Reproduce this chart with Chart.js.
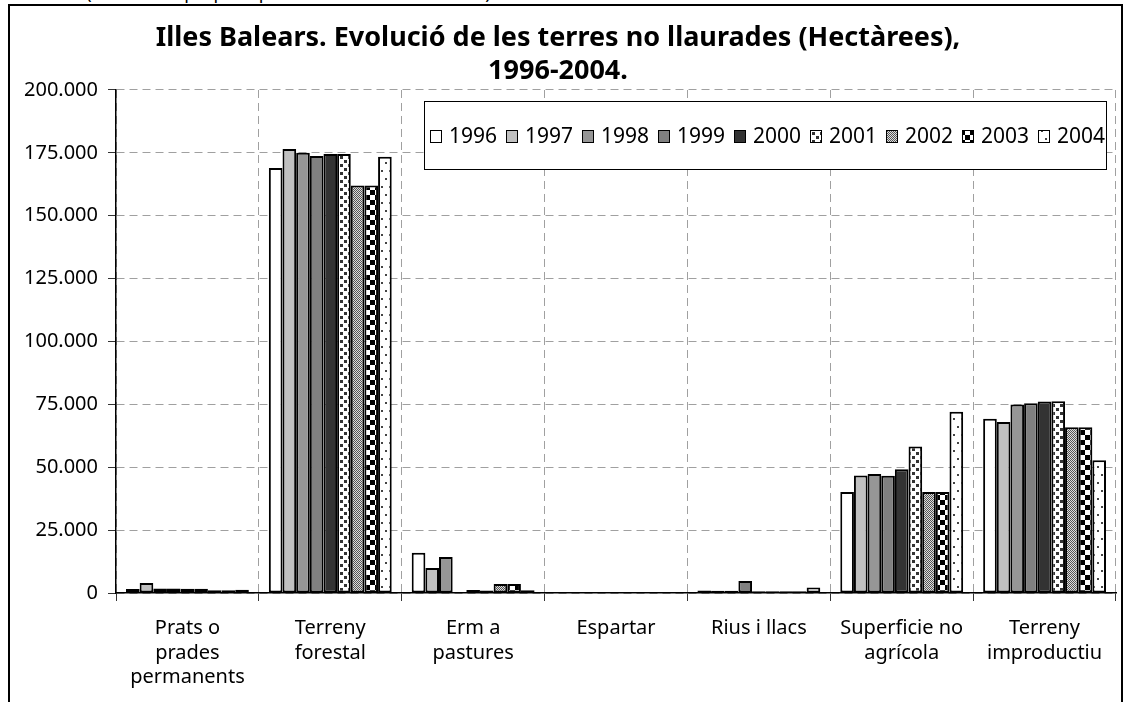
<!DOCTYPE html>
<html>
<head>
<meta charset="utf-8">
<script src="https://cdn.jsdelivr.net/npm/chart.js@4"></script>
<style>
body{margin:0;background:#fff;overflow:hidden}
#wrap{position:relative;width:1133px;height:702px;overflow:hidden}
#cap{position:absolute;left:12px;top:-20px;font:18px "Noto Sans";white-space:nowrap;color:#000}
#frame{position:absolute;left:8px;top:4px;width:1115px;height:760px;border:2px solid #000;box-sizing:border-box}
canvas{position:absolute;left:0;top:0}
</style>
</head>
<body>
<div id="wrap">
  <div id="cap">Gràfic 3. (Elaboració pròpia a partir de les taules 3.3 i 3.4)</div>
  <div id="frame"></div>
  <canvas id="myChart" width="1133" height="702"></canvas>
</div>
<script>
const titleLines = ['Illes Balears. Evolució de les terres no llaurades (Hectàrees),', '1996-2004.'];
const categories = [
    ['Prats o', 'prades', 'permanents'],
    ['Terreny', 'forestal'],
    ['Erm a', 'pastures'],
    'Espartar',
    'Rius i llacs',
    ['Superficie no', 'agrícola'],
    ['Terreny', 'improductiu']
];
const years = ['1996', '1997', '1998', '1999', '2000', '2001', '2002', '2003', '2004'];

const v1996 = [1600, 169000, 16000, 0, 1000, 40200, 69300];
const v1997 = [4000, 176500, 9900, 0, 900, 46700, 68000];
const v1998 = [1800, 175000, 14300, 0, 900, 47300, 74900];
const v1999 = [1800, 173800, 400, 0, 4800, 46600, 75400];
const v2000 = [1700, 174500, 1200, 0, 700, 49200, 76100];
const v2001 = [1700, 174500, 1000, 0, 700, 58200, 76200];
const v2002 = [1100, 162000, 3600, 0, 700, 40200, 65900];
const v2003 = [1100, 162000, 3600, 0, 700, 40200, 65900];
const v2004 = [1300, 173500, 1100, 0, 2200, 72100, 52800];

const yTickLabels = ['0', '25.000', '50.000', '75.000', '100.000', '125.000', '150.000', '175.000', '200.000'];

const ctx = document.getElementById('myChart').getContext('2d');

// little fill patterns like the old Excel ones
function pattern(w, h, paint) {
    const c = document.createElement('canvas');
    c.width = w; c.height = h;
    const g = c.getContext('2d');
    g.fillStyle = '#fff';
    g.fillRect(0, 0, w, h);
    paint(g);
    return ctx.createPattern(c, 'repeat');
}

const confetti = pattern(8, 8, g => {
    g.fillStyle = '#333';
    g.fillRect(0, 0, 3, 3);
    g.fillRect(4, 4, 3, 3);
});
const fineGrey = pattern(2, 2, g => {
    g.fillStyle = '#ddd';
    g.fillRect(0, 0, 2, 2);
    g.fillStyle = '#555';
    g.fillRect(0, 0, 1, 1);
    g.fillRect(1, 1, 1, 1);
});
const checker = pattern(10, 10, g => {
    g.fillStyle = '#000';
    g.fillRect(0, 0, 5, 5);
    g.fillRect(5, 5, 5, 5);
});
const dots = pattern(8, 16, g => {
    g.fillStyle = '#444';
    g.fillRect(1, 2, 2, 2);
    g.fillRect(5, 10, 2, 2);
});

const fills = ['#ffffff', '#c0c0c0', '#969696', '#808080', '#333333', confetti, fineGrey, checker, dots];
const series = [v1996, v1997, v1998, v1999, v2000, v2001, v2002, v2003, v2004];

const font = { family: 'Noto Sans', size: 20, lineHeight: 1.23 };

// legend box sitting inside the plot, like the original
const boxLegend = {
    id: 'boxLegend',
    afterDatasetsDraw(chart) {
        const c = chart.ctx;
        const x0 = 424, y0 = 101, w = 682, h = 68;
        c.save();
        c.fillStyle = '#fff';
        c.fillRect(x0, y0, w, h);
        c.strokeStyle = '#000';
        c.lineWidth = 1;
        c.strokeRect(x0 + 0.5, y0 + 0.5, w, h);
        c.font = '21px "Noto Sans"';
        c.textBaseline = 'middle';
        chart.data.datasets.forEach((ds, i) => {
            const x = 430 + i * 76;
            const y = 136;
            c.fillStyle = ds.backgroundColor;
            c.fillRect(x, y - 6, 11, 12);
            c.strokeStyle = '#000';
            c.strokeRect(x + 0.5, y - 6 + 0.5, 11, 12);
            c.fillStyle = '#000';
            c.fillText(ds.label, x + 19, y + 1);
        });
        c.restore();
    }
};

const myChart = new Chart(ctx, {
    type: 'bar',
    data: {
        labels: categories,
        datasets: years.map((y, i) => ({
            label: y,
            data: series[i],
            backgroundColor: fills[i],
            borderColor: '#000',
            borderWidth: 2,
            borderSkipped: false,
            categoryPercentage: 0.86,
            barPercentage: 1.0
        }))
    },
    options: {
        responsive: false,
        animation: false,
        layout: { padding: { left: 0, right: 17, top: 0, bottom: 0 } },
        plugins: {
            legend: { display: false },
            tooltip: { enabled: false },
            title: {
                display: true,
                text: titleLines,
                color: '#000',
                font: { family: 'Noto Sans', size: 27, weight: 'bold', lineHeight: 1.222 },
                padding: { top: 22, bottom: 2 }
            }
        },
        scales: {
            x: {
                grid: { color: '#a0a0a0', offset: true, tickLength: 8, tickColor: '#333', tickWidth: 1 },
                border: { color: '#000', width: 1.5, dash: [8, 5] },
                ticks: { font: font, color: '#000', padding: 15, maxRotation: 0, autoSkip: false },
                afterFit(s) { s.height = 109; }
            },
            y: {
                min: 0,
                max: 200000,
                grid: { color: '#a0a0a0', tickLength: 8, tickColor: '#333', tickWidth: 1 },
                border: { color: '#000', width: 1.5, dash: [8, 5] },
                ticks: {
                    stepSize: 25000,
                    font: { family: 'Noto Sans', size: 20 },
                    color: '#000',
                    padding: 10,
                    callback: (v, i) => yTickLabels[i]
                },
                afterFit(s) { s.width = 116; }
            }
        }
    },
    plugins: [boxLegend]
});
</script>
</body>
</html>
